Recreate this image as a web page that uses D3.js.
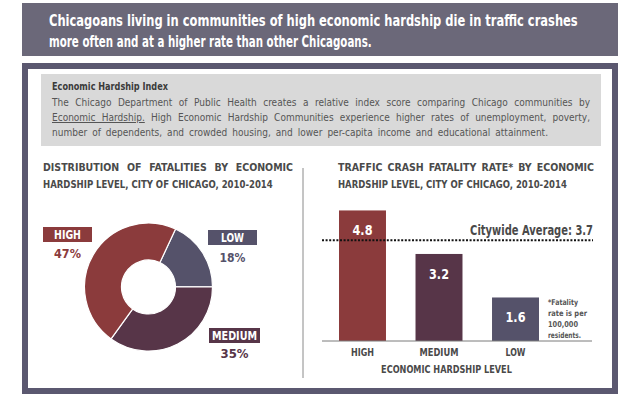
<!DOCTYPE html>
<html>
<head>
<meta charset="utf-8">
<script src="https://cdn.jsdelivr.net/npm/d3@7.9.0/dist/d3.min.js"></script>
<style>
  body { margin: 0; background: #fff; }
  svg { display: block; }
  text { font-family: "Liberation Sans Narrow", "DejaVu Sans Condensed", "Liberation Sans", Arial, sans-serif; }
</style>
</head>
<body>
<svg id="chart" width="640" height="395"></svg>
<script>
// data
const levels = ["HIGH", "MEDIUM", "LOW"];
const fatalityShare = [47, 35, 18];          // % of fatalities
const fatalityRate = [4.8, 3.2, 1.6];        // per 100,000 residents
const citywideAverage = 3.7;
const pieOrder = ["LOW", "MEDIUM", "HIGH"];  // clockwise from top

const headline = [
  "Chicagoans living in communities of high economic hardship die in traffic crashes",
  "more often and at a higher rate than other Chicagoans."
];
const boxTitle = "Economic Hardship Index";
const leftTitle = ["DISTRIBUTION OF FATALITIES BY ECONOMIC", "HARDSHIP LEVEL, CITY OF CHICAGO, 2010-2014"];
const rightTitle = ["TRAFFIC CRASH FATALITY RATE* BY ECONOMIC", "HARDSHIP LEVEL, CITY OF CHICAGO, 2010-2014"];
const footnote = ["*Fatality", "rate is per", "100,000", "residents."];

const colors = { HIGH: "#8b3b3c", MEDIUM: "#573548", LOW: "#55526a" };

const svg = d3.select("#chart");

// squeeze (horizontal scale) or justify (word spacing) a text element to a width
function fit(sel, width, justify) {
  const node = sel.node();
  const w = node.getComputedTextLength();
  const spaces = (sel.text().match(/ /g) || []).length;
  if (justify && spaces > 0 && w <= width) {
    sel.attr("word-spacing", (width - w) / spaces);
  } else {
    const tx = +sel.attr("x") || 0, ty = +sel.attr("y") || 0;
    sel.attr("x", 0).attr("y", 0)
      .attr("transform", `translate(${tx},${ty}) scale(${width / w},1)`);
  }
  return sel;
}

// headline banner
svg.append("rect").attr("x", 22).attr("y", 3).attr("width", 596).attr("height", 53).attr("fill", "#6b6879");
headline.forEach((t, i) => {
  const el = svg.append("text").attr("x", 49).attr("y", 26 + i * 21)
    .attr("fill", "#fff").attr("font-size", 15).attr("font-weight", "bold").text(t);
  fit(el, i === 0 ? 529 : 323, false);
});

// frame
svg.append("rect").attr("x", 25).attr("y", 66).attr("width", 590).attr("height", 325)
  .attr("fill", "#fff").attr("stroke", "#5b5870").attr("stroke-width", 6);

// info box
svg.append("rect").attr("x", 41).attr("y", 74).attr("width", 560).attr("height", 72).attr("fill", "#d9d9d9");
fit(svg.append("text").attr("x", 52).attr("y", 90).attr("font-size", 10.5).attr("font-weight", "bold")
  .attr("fill", "#3b3b3b").text(boxTitle), 116, false);

const b1 = svg.append("text").attr("x", 52).attr("y", 106).attr("font-size", 10).attr("fill", "#555")
  .text("The Chicago Department of Public Health creates a relative index score comparing Chicago communities by");
fit(b1, 538, true);
const b2 = svg.append("text").attr("x", 52).attr("y", 121).attr("font-size", 10).attr("fill", "#555");
b2.append("tspan").attr("text-decoration", "underline").text("Economic Hardship.");
b2.append("tspan").text(" High Economic Hardship Communities experience higher rates of unemployment, poverty,");
fit(b2, 538, true);
const b3 = svg.append("text").attr("x", 52).attr("y", 136).attr("font-size", 10).attr("fill", "#555")
  .text("number of dependents, and crowded housing, and lower per-capita income and educational attainment.");
fit(b3, 496, true);

// panel titles
function panelTitle(lines, x, w1, w2) {
  lines.forEach((t, i) => {
    const el = svg.append("text").attr("x", x).attr("y", 171 + i * 17)
      .attr("font-size", 10.5).attr("font-weight", "bold").attr("fill", "#4a4a4a").text(t);
    fit(el, i === 0 ? w1 : w2, i === 0);
  });
}
panelTitle(leftTitle, 43, 250, 230);
panelTitle(rightTitle, 338, 256, 229);

// divider
svg.append("line").attr("x1", 303).attr("x2", 303).attr("y1", 168).attr("y2", 378)
  .attr("stroke", "#8a8a8a").attr("stroke-width", 1);

// donut
const shareByLevel = new Map(levels.map((l, i) => [l, fatalityShare[i]]));
const pieData = pieOrder.map(l => ({ level: l, value: shareByLevel.get(l) }));
const start = 25 * Math.PI / 180;
const pie = d3.pie().value(d => d.value).sort(null).startAngle(start).endAngle(start + 2 * Math.PI);
const arc = d3.arc().innerRadius(27).outerRadius(64);

svg.append("g").attr("transform", "translate(148.5,287)")
  .selectAll("path").data(pie(pieData)).join("path")
  .attr("d", arc).attr("fill", d => colors[d.data.level])
  .attr("stroke", "#fff").attr("stroke-width", 1.2);

const pieLabel = {
  HIGH:   { bx: 43,  by: 227, bw: 49, tw: 27, pw: 27, py: 258 },
  LOW:    { bx: 208, by: 230, bw: 49, tw: 23, pw: 26, py: 262 },
  MEDIUM: { bx: 209, by: 328, bw: 51, tw: 45, pw: 28, py: 358 }
};
pieData.forEach(d => {
  const p = pieLabel[d.level];
  const cx = p.bx + p.bw / 2;
  svg.append("rect").attr("x", p.bx).attr("y", p.by).attr("width", p.bw).attr("height", 15)
    .attr("fill", colors[d.level]);
  fit(svg.append("text").attr("x", cx).attr("y", p.by + 12).attr("text-anchor", "middle")
    .attr("font-size", 11.5).attr("font-weight", "bold").attr("fill", "#fff").text(d.level), p.tw, false);
  fit(svg.append("text").attr("x", cx).attr("y", p.py).attr("text-anchor", "middle")
    .attr("font-size", 13).attr("font-weight", "bold").attr("fill", colors[d.level]).text(d.value + "%"), p.pw, false);
});

// bar chart
const x = d3.scaleBand().domain(levels).range([339, 539]).paddingInner(0.386).paddingOuter(0);
const y = d3.scaleLinear().domain([0, 5]).range([341, 205]);

svg.append("g").selectAll("rect").data(levels).join("rect")
  .attr("x", d => x(d)).attr("width", x.bandwidth())
  .attr("y", (d, i) => y(fatalityRate[i])).attr("height", (d, i) => y(0) - y(fatalityRate[i]))
  .attr("fill", d => colors[d]);

levels.forEach((l, i) => {
  fit(svg.append("text").attr("x", x(l) + x.bandwidth() / 2).attr("y", y(fatalityRate[i]) + 25)
    .attr("text-anchor", "middle").attr("font-size", 13.5).attr("font-weight", "bold").attr("fill", "#fff")
    .text(fatalityRate[i].toFixed(1)), 20, false);
});

// baseline axis
const axis = svg.append("g").attr("transform", `translate(0,${y(0)})`)
  .call(d3.axisBottom(x).tickSize(0).tickPadding(8));
axis.select(".domain").remove();
axis.append("line").attr("x1", 322).attr("x2", 592).attr("stroke", "#7a7a7a").attr("stroke-width", 1);
const catW = { HIGH: 23, MEDIUM: 39, LOW: 20 };
axis.selectAll(".tick text")
  .attr("font-size", 10.5).attr("font-weight", "bold").attr("fill", "#4a4a4a")
  .attr("font-family", null)
  .each(function(d) { fit(d3.select(this), catW[d], false); });

fit(svg.append("text").attr("x", 446.5).attr("y", 373).attr("text-anchor", "middle")
  .attr("font-size", 10.5).attr("font-weight", "bold").attr("fill", "#4a4a4a")
  .text("ECONOMIC HARDSHIP LEVEL"), 131, false);

// citywide average
svg.append("line").attr("x1", 322).attr("x2", 593).attr("y1", y(citywideAverage)).attr("y2", y(citywideAverage))
  .attr("stroke", "#111").attr("stroke-width", 2).attr("stroke-dasharray", "2,1.6");
fit(svg.append("text").attr("x", 593).attr("y", y(citywideAverage) - 5).attr("text-anchor", "end")
  .attr("font-size", 13.5).attr("font-weight", "bold").attr("fill", "#4a4a4a")
  .text("Citywide Average:  " + citywideAverage), 123, false);

// footnote
const fw = [30, 39, 30, 33];
footnote.forEach((t, i) => {
  fit(svg.append("text").attr("x", 548).attr("y", 305 + i * 11)
    .attr("font-size", 8).attr("font-weight", "bold").attr("fill", "#555").text(t), fw[i], false);
});
</script>
</body>
</html>
